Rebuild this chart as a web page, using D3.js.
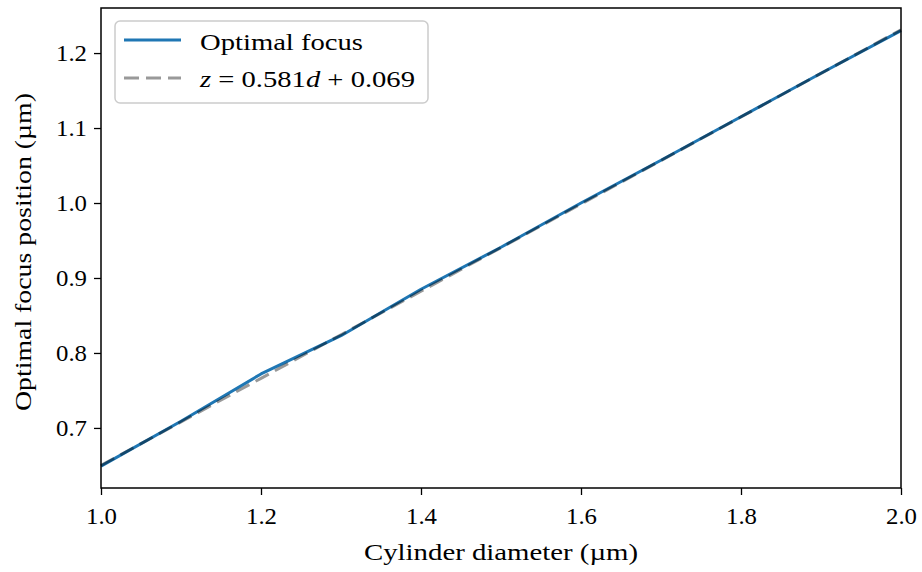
<!DOCTYPE html>
<html>
<head>
<meta charset="utf-8">
<script src="https://cdn.jsdelivr.net/npm/d3@7"></script>
<style>
  html, body { margin: 0; padding: 0; background: #fff; }
  svg { display: block; }
  text { font-family: "Liberation Serif", "DejaVu Serif", serif; fill: #000; }
</style>
</head>
<body>
<svg id="chart" width="922" height="572"></svg>
<script>
// Optimal focus position versus cylinder diameter (µm)
const diameters = [1.0, 1.1, 1.2, 1.3, 1.4, 1.5, 1.6, 1.7, 1.8, 1.9, 2.0];
const optimalFocus = [0.649, 0.709, 0.772, 0.823, 0.885, 0.941, 1.000, 1.057, 1.115, 1.173, 1.230];

// Linear fit z = slope * d + intercept
const fitSlope = 0.581;
const fitIntercept = 0.069;

const xTicks = [1.0, 1.2, 1.4, 1.6, 1.8, 2.0];
const yTicks = [0.7, 0.8, 0.9, 1.0, 1.1, 1.2];

const W = 922, H = 572;
const margin = { left: 101, right: 21, top: 8, bottom: 84 };
const svg = d3.select("#chart");
const serif = '"Liberation Serif", "DejaVu Serif", serif';

const fitValues = diameters.map(d => fitSlope * d + fitIntercept);
const allY = optimalFocus.concat(fitValues);
const yMin = d3.min(allY), yMax = d3.max(allY);
const pad = (yMax - yMin) * 0.05;

const x = d3.scaleLinear().domain([1.0, 2.0]).range([margin.left, W - margin.right]);
const y = d3.scaleLinear().domain([yMin - pad, yMax + pad]).range([H - margin.bottom, margin.top]);

const line = d3.line().x(d => x(d[0])).y(d => y(d[1]));

const plot = svg.append("g");

// data curve
plot.append("path")
  .datum(diameters.map((d, i) => [d, optimalFocus[i]]))
  .attr("d", line)
  .attr("fill", "none")
  .attr("stroke", "#1f77b4")
  .attr("stroke-width", 3)
  .attr("stroke-linejoin", "round");

// fitted line
plot.append("path")
  .datum(diameters.map((d, i) => [d, fitValues[i]]))
  .attr("d", line)
  .attr("fill", "none")
  .attr("stroke", "#000")
  .attr("stroke-opacity", 0.4)
  .attr("stroke-width", 3)
  .attr("stroke-dasharray", "15,7");

// axes
const fmt = d3.format(".1f");
const xAxis = svg.append("g")
  .attr("transform", `translate(0,${H - margin.bottom})`)
  .call(d3.axisBottom(x).tickValues(xTicks).tickFormat(fmt).tickSize(7).tickPadding(8));
const yAxis = svg.append("g")
  .attr("transform", `translate(${margin.left},0)`)
  .call(d3.axisLeft(y).tickValues(yTicks).tickFormat(fmt).tickSize(7).tickPadding(7));

[xAxis, yAxis].forEach(g => {
  g.select(".domain").remove();
  g.selectAll(".tick line").attr("stroke", "#000").attr("stroke-width", 1.3);
  g.selectAll(".tick text")
    .style("font-family", serif)
    .style("font-size", "23px")
    .attr("fill", "#000")
    .attr("textLength", 31)
    .attr("lengthAdjust", "spacingAndGlyphs");
});
xAxis.selectAll(".tick text").attr("dy", "0.92em");
yAxis.selectAll(".tick text").attr("dy", "0.34em");

// frame
svg.append("rect")
  .attr("x", margin.left).attr("y", margin.top)
  .attr("width", W - margin.left - margin.right)
  .attr("height", H - margin.top - margin.bottom)
  .attr("fill", "none")
  .attr("stroke", "#000")
  .attr("stroke-width", 1.5);

// axis titles
svg.append("text")
  .attr("x", x(1.5)).attr("y", 560)
  .attr("text-anchor", "middle")
  .style("font-size", "23px")
  .attr("textLength", 274)
  .attr("lengthAdjust", "spacingAndGlyphs")
  .text("Cylinder diameter (µm)");

svg.append("text")
  .attr("transform", `translate(31,${(margin.top + H - margin.bottom) / 2 + 4}) rotate(-90)`)
  .attr("text-anchor", "middle")
  .style("font-size", "23px")
  .attr("textLength", 318)
  .attr("lengthAdjust", "spacingAndGlyphs")
  .text("Optimal focus position (µm)");

// legend
const lg = svg.append("g");
lg.append("rect")
  .attr("x", 115).attr("y", 21)
  .attr("width", 313).attr("height", 82)
  .attr("rx", 5).attr("ry", 5)
  .attr("fill", "#fff").attr("fill-opacity", 0.8)
  .attr("stroke", "#ccc").attr("stroke-width", 1.5);

lg.append("line")
  .attr("x1", 124).attr("x2", 181).attr("y1", 40).attr("y2", 40)
  .attr("stroke", "#1f77b4").attr("stroke-width", 3);
lg.append("line")
  .attr("x1", 124).attr("x2", 181).attr("y1", 78).attr("y2", 78)
  .attr("stroke", "#000").attr("stroke-opacity", 0.4)
  .attr("stroke-width", 3).attr("stroke-dasharray", "15,7");

lg.append("text")
  .attr("x", 200).attr("y", 50)
  .style("font-size", "23px")
  .attr("textLength", 163)
  .attr("lengthAdjust", "spacingAndGlyphs")
  .text("Optimal focus");

const eq = lg.append("text")
  .attr("x", 200).attr("y", 87)
  .style("font-size", "23px")
  .attr("textLength", 215)
  .attr("lengthAdjust", "spacingAndGlyphs");
eq.append("tspan").style("font-style", "italic").text("z");
eq.append("tspan").text(` = ${fitSlope}`);
eq.append("tspan").style("font-style", "italic").text("d");
eq.append("tspan").text(` + ${fitIntercept}`);
</script>
</body>
</html>
